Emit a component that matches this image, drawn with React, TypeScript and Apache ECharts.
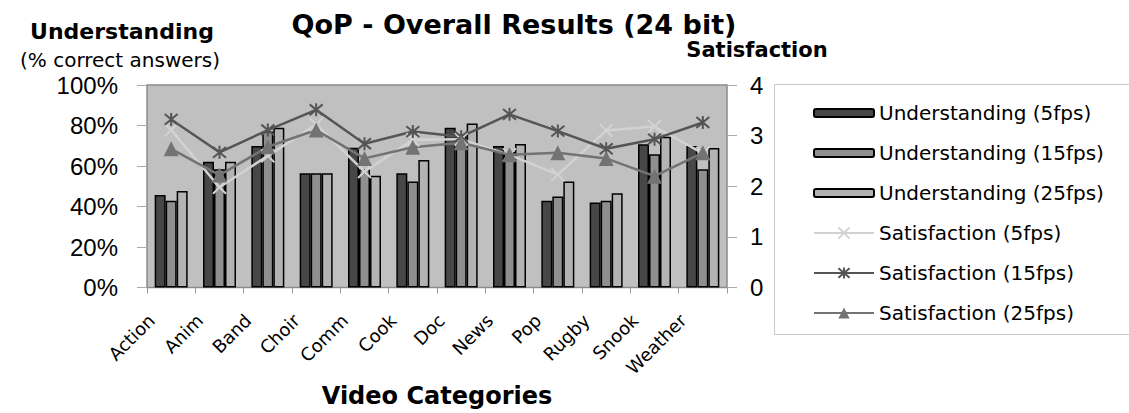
import React, { useEffect, useRef } from "react";
import * as echarts from "echarts";

const categories = ["Action", "Anim", "Band", "Choir", "Comm", "Cook", "Doc", "News", "Pop", "Rugby", "Snook", "Weather"];
const understanding5 = [45.7, 62.1, 69.9, 56.4, 69.0, 56.4, 78.9, 69.9, 42.9, 42.0, 70.7, 69.9];
const understanding15 = [42.9, 58.4, 77.0, 56.4, 58.4, 52.3, 75.5, 67.0, 44.9, 42.9, 65.8, 58.4];
const understanding25 = [47.7, 62.1, 78.9, 56.4, 55.2, 63.0, 81.0, 70.9, 52.4, 46.5, 74.5, 68.9];
const satisfaction5 = [3.11, 1.98, 2.6, 3.22, 2.29, 2.92, 2.93, 2.62, 2.23, 3.1, 3.18, 2.65];
const satisfaction15 = [3.32, 2.67, 3.11, 3.51, 2.84, 3.08, 2.98, 3.42, 3.09, 2.74, 2.93, 3.26];
const satisfaction25 = [2.74, 2.22, 2.78, 3.11, 2.55, 2.77, 2.86, 2.62, 2.66, 2.55, 2.2, 2.66];

const understandingTicks = { min: 0, max: 100, interval: 20 };
const satisfactionTicks = { min: 0, max: 4, interval: 1 };

const barNames = ["Understanding (5fps)", "Understanding (15fps)", "Understanding (25fps)"];
const lineNames = ["Satisfaction (5fps)", "Satisfaction (15fps)", "Satisfaction (25fps)"];

const SANS = "DejaVu Sans";
const ARIAL = "Liberation Sans";

const X_SYMBOL = "path://M0,0L10,10M10,0L0,10";
const STAR_SYMBOL = "path://M0,0L10,10M10,0L0,10M5,-1L5,11";

export default function App() {
  const ref = useRef<HTMLDivElement>(null);

  useEffect(() => {
    if (!ref.current) return;
    const chart = echarts.init(ref.current, null, { renderer: "svg" });

    const barColors = ["#474747", "#8f8f8f", "#b3b3b3"];
    const barData = [understanding5, understanding15, understanding25];
    const lineColors = ["#d2d2d2", "#555555", "#737373"];
    const lineData = [satisfaction5, satisfaction15, satisfaction25];
    const lineSymbols = [X_SYMBOL, STAR_SYMBOL, "triangle"];

    const barSeries = barNames.map((name, i) => ({
      name,
      type: "bar",
      yAxisIndex: 0,
      data: barData[i],
      barWidth: 11,
      barGap: "0%",
      itemStyle: { color: barColors[i], borderColor: "#000", borderWidth: 1.5 },
    }));

    const lineSeries = lineNames.map((name, i) => ({
      name,
      type: "line",
      yAxisIndex: 1,
      data: lineData[i],
      symbol: lineSymbols[i],
      symbolSize: i === 2 ? 15 : 13,
      lineStyle: { color: lineColors[i], width: 2.5 },
      itemStyle:
        i === 2
          ? { color: lineColors[i] }
          : { color: lineColors[i], borderColor: lineColors[i], borderWidth: 2 },
      z: 3,
    }));

    const legendText = { fontFamily: SANS, fontSize: 20, color: "#000", lineHeight: 20 };

    chart.setOption({
      animation: false,
      backgroundColor: "#ffffff",
      grid: {
        left: 147,
        top: 85,
        width: 580,
        height: 202.5,
        show: true,
        backgroundColor: "#c0c0c0",
        borderColor: "#8a8a8a",
        borderWidth: 1.5,
      },
      legend: [
        {
          data: barNames,
          orient: "vertical",
          left: 808,
          top: 98,
          itemWidth: 60,
          itemHeight: 8,
          itemGap: 20,
          textStyle: legendText,
        },
        {
          data: lineNames,
          orient: "vertical",
          left: 808,
          top: 218,
          itemWidth: 60,
          itemHeight: 14,
          itemGap: 20,
          textStyle: legendText,
        },
      ],
      xAxis: {
        type: "category",
        data: categories,
        axisLine: { show: true, lineStyle: { color: "#8a8a8a", width: 1 } },
        axisTick: { show: true, length: 6, lineStyle: { color: "#9a9a9a" } },
        axisLabel: {
          interval: 0,
          rotate: 45,
          margin: 10,
          padding: [0, 28, 0, 0],
          fontFamily: SANS,
          fontSize: 18,
          color: "#000",
        },
        splitLine: { show: false },
      },
      yAxis: [
        {
          type: "value",
          min: understandingTicks.min,
          max: understandingTicks.max,
          interval: understandingTicks.interval,
          axisLine: { show: false },
          axisTick: { show: true, length: 10, lineStyle: { color: "#aaaaaa" } },
          splitLine: { show: false },
          axisLabel: {
            formatter: "{value}%",
            margin: 29,
            fontFamily: ARIAL,
            fontSize: 24,
            color: "#000",
          },
        },
        {
          type: "value",
          position: "right",
          min: satisfactionTicks.min,
          max: satisfactionTicks.max,
          interval: satisfactionTicks.interval,
          axisLine: { show: false },
          axisTick: { show: true, length: 10, lineStyle: { color: "#aaaaaa" } },
          splitLine: { show: false },
          axisLabel: {
            margin: 23,
            fontFamily: ARIAL,
            fontSize: 24,
            color: "#000",
          },
        },
      ],
      graphic: [
        {
          type: "rect",
          shape: { x: 774.5, y: 84.5, width: 400, height: 250 },
          style: { fill: "none", stroke: "#c8c8c8", lineWidth: 1 },
          z: -1,
        },
        {
          type: "text",
          x: 514,
          y: 24,
          style: {
            text: "QoP - Overall Results (24 bit)",
            font: `bold 27px '${SANS}'`,
            fill: "#000",
            textAlign: "center",
            textVerticalAlign: "middle",
          },
        },
        {
          type: "text",
          x: 122,
          y: 31,
          style: {
            text: "Understanding",
            font: `bold 22px '${SANS}'`,
            fill: "#000",
            textAlign: "center",
            textVerticalAlign: "middle",
          },
        },
        {
          type: "text",
          x: 120,
          y: 60,
          style: {
            text: "(% correct answers)",
            font: `20px '${SANS}'`,
            fill: "#000",
            textAlign: "center",
            textVerticalAlign: "middle",
          },
        },
        {
          type: "text",
          x: 757,
          y: 50,
          style: {
            text: "Satisfaction",
            font: `bold 21px '${SANS}'`,
            fill: "#000",
            textAlign: "center",
            textVerticalAlign: "middle",
          },
        },
        {
          type: "text",
          x: 437,
          y: 396,
          style: {
            text: "Video Categories",
            font: `bold 24px '${SANS}'`,
            fill: "#000",
            textAlign: "center",
            textVerticalAlign: "middle",
          },
        },
      ],
      series: [...barSeries, ...lineSeries],
    });

    return () => chart.dispose();
  }, []);

  return (
    <div
      ref={ref}
      style={{ position: "absolute", left: 0, top: 0, width: 1129, height: 413 }}
    />
  );
}
